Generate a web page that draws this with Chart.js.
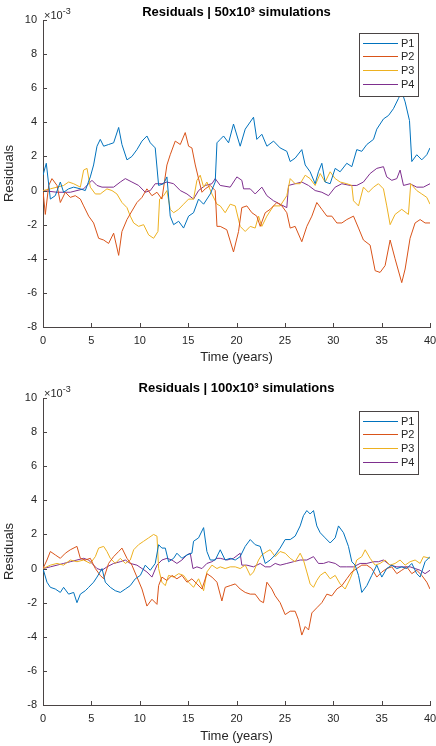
<!DOCTYPE html>
<html>
<head>
<meta charset="utf-8">
<script src="https://cdn.jsdelivr.net/npm/chart.js@4.4.0/dist/chart.umd.min.js"></script>
<style>
  body { margin: 0; background: #fff; }
  canvas { display: block; }
</style>
</head>
<body>
<canvas id="chartTop" width="436" height="373"></canvas>
<canvas id="chartBottom" width="436" height="373"></canvas>
<script>
// series names, colours, ticks
const seriesNames = ["P1", "P2", "P3", "P4"];
const seriesColors = ["#0072BD", "#D95319", "#EDB120", "#7E2F8E"];
const xTicks = [0, 5, 10, 15, 20, 25, 30, 35, 40];
const yTicks = [-8, -6, -4, -2, 0, 2, 4, 6, 8, 10];

// === 50x10^3 simulations === [year, residual x1e-3]
const top_P1 = [[0,0.9],[0.34,1.6],[0.76,-0.5],[1.27,-0.3],[1.79,0.5],[2.13,-0.1],[2.65,0.1],[3.17,0.2],[3.86,0.1],[4.37,0.0],[4.89,0.8],[5.23,1.5],[5.58,2.6],[5.92,3.0],[6.27,2.6],[6.78,2.7],[7.3,2.8],[7.82,3.7],[8.16,2.7],[8.68,1.8],[9.19,2.0],[9.71,2.4],[10.23,2.9],[10.74,3.2],[11.09,2.8],[11.6,2.5],[11.95,0.3],[12.47,0.4],[12.81,0.8],[13.15,-1.5],[13.5,-2.0],[14.02,-1.8],[14.53,-2.2],[15.05,-1.5],[15.56,-1.3],[16.08,-0.5],[16.6,-0.8],[17.29,-0.2],[17.8,0.5],[17.98,2.8],[18.32,3.0],[18.66,3.2],[19.18,2.8],[19.69,3.9],[20.38,2.6],[20.9,3.6],[21.76,4.3],[22.1,3.0],[22.62,3.3],[23.14,2.6],[23.83,2.9],[24.51,2.5],[25.2,2.3],[25.55,1.7],[26.06,1.9],[26.75,2.4],[27.1,1.5],[27.61,1.1],[28.13,0.4],[28.47,1.1],[28.82,1.6],[29.16,0.5],[29.68,0.4],[30.2,1.3],[30.71,1.1],[31.4,1.6],[31.92,1.4],[32.43,2.4],[32.95,2.3],[33.47,2.7],[34.16,3.0],[34.5,3.6],[35.19,4.2],[35.71,4.4],[36.22,4.8],[36.74,5.4],[37.08,5.8],[37.43,5.2],[37.88,4.1],[38.12,1.7],[38.63,2.1],[39.15,1.8],[39.67,2.1],[40,2.5]];
const top_P2 = [[0,0],[0.24,-1.4],[0.59,0.3],[0.93,0.7],[1.45,0.3],[1.79,-0.7],[2.31,-0.1],[2.82,-0.4],[3.34,-0.3],[3.86,-0.5],[4.2,-0.9],[4.72,-1.5],[5.23,-1.9],[5.75,-2.8],[6.27,-2.9],[6.78,-3.1],[7.3,-2.5],[7.82,-3.8],[8.16,-2.4],[8.68,-1.7],[9.19,-1.2],[9.71,-0.7],[10.23,-0.4],[10.74,0.1],[11.26,-0.3],[11.78,-0.1],[12.29,-0.5],[12.81,1.5],[13.15,2.1],[13.67,2.9],[14.19,2.7],[14.7,3.4],[15.05,2.6],[15.39,2.5],[15.74,1.5],[16.08,0.7],[16.43,-0.1],[16.77,0.1],[17.29,0.3],[17.8,0],[17.98,-2.1],[18.32,-2.1],[19.0,-2.3],[19.69,-3.6],[20.21,-2.4],[20.55,-1.0],[21.07,-0.9],[21.59,-1.3],[22.1,-1.5],[22.45,-2.1],[22.97,-1.3],[23.48,-1.1],[24.17,-0.7],[24.69,-0.9],[25.2,-1.3],[25.55,-2.2],[26.06,-2.1],[26.75,-3.0],[27.27,-2.1],[27.79,-1.5],[28.3,-0.7],[28.82,-1.1],[29.34,-1.5],[29.85,-1.5],[30.37,-1.9],[30.89,-1.9],[31.4,-1.7],[32.09,-1.5],[32.61,-2.2],[33.12,-2.9],[33.81,-3.2],[34.33,-4.7],[34.84,-4.8],[35.36,-4.4],[35.88,-2.9],[36.39,-4.0],[37.08,-5.4],[37.43,-4.6],[37.94,-2.8],[38.46,-1.9],[38.98,-1.7],[39.49,-1.9],[40,-1.9]];
const top_P3 = [[0,0],[0.76,0.1],[1.45,0.2],[2.13,0.3],[2.65,0.5],[3.17,0.4],[3.86,0.2],[4.2,1.2],[4.55,1.3],[4.89,0.2],[5.41,-0.2],[5.92,-0.2],[6.61,0.1],[7.13,0.0],[7.64,-0.2],[8.16,-0.7],[8.68,-1.0],[9.02,-1.5],[9.37,-1.9],[9.88,-2.1],[10.4,-2.0],[10.92,-2.6],[11.43,-2.8],[11.88,-2.4],[12.05,-0.5],[12.47,-0.3],[12.81,0.0],[13.15,-1.1],[13.5,-1.3],[14.02,-1.1],[14.53,-0.8],[15.05,-0.5],[15.56,-0.5],[15.91,0.6],[16.25,0.9],[16.6,0.2],[16.94,0.5],[17.46,-0.2],[17.98,-0.8],[18.32,-0.9],[18.83,-1.3],[19.35,-0.8],[19.87,-0.9],[20.38,-2.1],[20.9,-2.4],[21.42,-2.1],[21.93,-2.2],[22.28,-1.5],[22.62,-2.1],[23.14,-1.5],[23.83,-0.9],[24.51,-0.9],[25.2,-0.3],[25.55,0.7],[26.06,0.4],[26.58,0.4],[27.1,0.9],[27.61,0.7],[28.13,0.3],[28.65,1.0],[29.16,0.5],[29.68,1.1],[30.2,0.7],[30.71,0.5],[31.4,0.4],[31.92,0.3],[32.09,-0.6],[32.61,-0.9],[33.12,0.2],[33.64,-0.1],[34.16,0.2],[34.67,0.4],[35.19,0.1],[35.53,-0.9],[35.88,-2.0],[36.39,-1.4],[37.08,-1.1],[37.77,-1.4],[38.01,0.4],[38.63,0.0],[39.15,-0.2],[39.67,-0.4],[40,-0.8]];
const top_P4 = [[0,0],[1.45,-0.1],[2.82,-0.1],[4.2,0.1],[5.06,0.6],[5.58,0.3],[6.1,0.2],[7.3,0.2],[7.99,0.5],[8.51,0.7],[9.19,0.5],[9.88,0.3],[10.57,-0.1],[11.09,0.0],[11.6,0.4],[12.29,0.4],[12.81,0.5],[13.5,0.4],[14.19,0.0],[14.88,-0.2],[15.56,-0.5],[16.08,0.0],[16.77,0.3],[17.46,0.4],[17.8,0.7],[18.32,0.3],[19.35,0.2],[20.04,0.8],[20.55,0.6],[20.73,0.1],[21.42,0.1],[21.93,-0.2],[22.62,0.2],[23.14,-0.3],[23.83,-0.6],[24.51,-0.8],[25.2,-1.0],[25.38,0.3],[26.06,0.4],[26.75,0.5],[27.44,0.3],[28.13,0.0],[28.82,-0.1],[29.51,-0.3],[30.2,0.2],[30.89,0.4],[31.75,0.3],[32.43,0.3],[33.12,0.5],[33.81,1.0],[34.5,1.3],[35.19,1.4],[35.53,0.8],[36.05,0.6],[36.57,0.7],[36.91,1.2],[37.26,0.3],[37.94,0.4],[38.63,0.2],[39.32,0.2],[40,0.4]];

// === 100x10^3 simulations ===
const bot_P1 = [[0,0],[0.41,-0.8],[0.76,-1.1],[1.27,-1.2],[1.79,-1.4],[2.13,-1.1],[2.65,-1.5],[3.17,-1.4],[3.51,-2.0],[3.86,-1.5],[4.37,-1.3],[4.72,-1.1],[5.23,-0.8],[5.58,-0.5],[6.1,0.0],[6.44,-0.8],[6.96,-1.1],[7.47,-1.3],[7.99,-1.4],[8.51,-1.2],[9.02,-1.0],[9.54,-0.6],[10.06,-0.4],[10.57,0.2],[11.09,-0.1],[11.6,0.3],[11.95,1.4],[12.29,1.2],[12.64,1.2],[12.98,0.4],[13.5,0.6],[13.84,0.9],[14.36,0.6],[14.88,0.8],[15.39,0.9],[15.56,1.6],[16.08,1.8],[16.6,2.4],[16.94,1.0],[17.29,0.5],[17.8,0.5],[18.32,1.1],[18.83,0.5],[19.35,0.6],[19.87,0.5],[20.38,0.7],[20.9,1.3],[21.42,1.7],[21.93,1.4],[22.45,1.3],[22.97,0.3],[23.48,0.5],[24.0,0.8],[24.51,1.2],[25.03,1.7],[25.55,1.7],[26.06,1.9],[26.58,2.5],[26.92,3.1],[27.27,3.4],[27.61,3.2],[27.96,3.4],[28.3,2.5],[28.65,2.1],[29.16,1.8],[29.68,1.5],[30.2,1.8],[30.54,2.5],[31.06,2.1],[31.57,1.3],[31.92,0.4],[32.26,0.2],[32.61,-0.4],[32.95,-1.4],[33.47,-1.0],[33.98,-0.4],[34.5,0.2],[35.02,-0.5],[35.53,0.0],[36.05,0.2],[36.57,0.0],[37.08,0.1],[37.6,0.0],[38.12,0.3],[38.63,-0.3],[38.98,-0.5],[39.49,0.4],[40,0.7]];
const bot_P2 = [[0,0],[0.41,0.5],[0.76,1.0],[1.27,0.8],[1.79,0.6],[2.31,0.9],[2.82,1.1],[3.51,1.3],[3.86,0.6],[4.37,0.5],[4.89,0.6],[5.41,0.0],[5.92,-0.4],[6.27,-0.6],[6.78,0.3],[7.3,0.7],[7.82,1.0],[8.16,1.2],[8.68,0.6],[9.19,0.2],[9.71,-0.5],[10.23,-1.2],[10.74,-2.2],[11.26,-1.8],[11.78,-2.1],[11.95,-1.0],[12.29,-0.5],[12.81,-0.7],[13.33,-0.4],[13.84,-0.6],[14.36,-0.4],[14.88,-0.8],[15.39,-0.6],[15.91,-0.9],[16.43,-1.2],[16.94,-0.3],[17.46,-0.5],[17.98,-0.8],[18.49,-1.9],[18.83,-1.1],[19.35,-1.0],[19.87,-0.9],[20.38,-1.2],[20.9,-1.4],[21.42,-1.5],[21.93,-1.5],[22.45,-1.9],[22.79,-2.0],[23.14,-0.8],[23.65,-1.2],[24.0,-1.6],[24.51,-2.0],[25.03,-2.7],[25.55,-2.5],[26.06,-2.5],[26.4,-3.0],[26.75,-3.9],[27.1,-3.4],[27.45,-3.6],[27.79,-2.6],[28.3,-2.3],[28.82,-2.0],[29.34,-1.5],[29.85,-1.6],[30.37,-1.2],[30.89,-1.0],[31.4,-0.6],[31.92,-0.2],[32.43,0.0],[32.95,0.2],[33.47,0.2],[33.98,0.0],[34.5,-0.5],[35.02,-0.2],[35.53,0.0],[36.05,0.1],[36.57,-0.3],[37.08,-0.1],[37.6,0.1],[38.12,-0.3],[38.63,-0.1],[39.15,-0.4],[39.67,-0.8],[40,-1.2]];
const bot_P3 = [[0,0],[0.76,0.2],[1.45,0.3],[2.13,0.2],[2.82,0.5],[3.51,0.4],[4.2,0.5],[4.89,0.3],[5.41,0.7],[5.75,1.2],[6.27,1.3],[6.61,1.0],[6.96,0.6],[7.47,0.3],[7.99,0.6],[8.51,0.3],[9.02,0.5],[9.37,1.1],[9.88,1.4],[10.4,1.6],[10.92,1.8],[11.43,2.0],[11.78,1.9],[11.95,0.0],[12.29,-0.8],[12.64,-1.0],[12.98,-0.4],[13.5,-0.5],[14.02,-0.3],[14.53,-0.4],[15.05,-0.8],[15.56,-1.1],[16.08,-0.6],[16.6,-1.3],[16.94,-0.2],[17.46,0.2],[17.98,0.0],[18.32,0.1],[18.83,0.0],[19.35,0.1],[19.87,0.1],[20.38,0.0],[20.9,0.2],[21.42,-0.4],[21.76,-0.2],[22.28,0.5],[22.62,0.8],[23.14,1.0],[23.48,1.1],[24.0,0.7],[24.51,1.0],[25.03,0.9],[25.55,0.6],[26.06,0.4],[26.58,0.9],[26.92,0.5],[27.27,-0.2],[27.61,-0.9],[27.96,-1.1],[28.3,-0.7],[28.65,-0.4],[29.16,-0.2],[29.68,-0.6],[30.2,-0.4],[30.71,-0.9],[31.23,-1.2],[31.75,-0.6],[32.09,-0.1],[32.43,0.5],[32.95,0.7],[33.3,1.1],[33.81,0.6],[34.33,0.2],[34.84,0.3],[35.36,0.5],[35.88,0.2],[36.39,0.3],[36.91,0.5],[37.43,0.2],[37.94,0.4],[38.46,0.5],[38.98,0.3],[39.32,0.7],[40,0.6]];
const bot_P4 = [[0,0],[0.76,0.1],[1.45,0.2],[2.13,0.3],[2.82,0.4],[3.51,0.5],[4.2,0.6],[4.72,0.5],[5.06,0.3],[5.58,0.0],[6.1,-0.1],[6.61,0.1],[7.3,0.3],[7.99,0.4],[8.51,0.5],[9.02,0.3],[9.71,0.2],[10.23,0.0],[10.74,-0.2],[11.26,-0.5],[11.78,0.2],[12.29,0.5],[12.81,0.6],[13.33,0.5],[13.84,0.3],[14.36,0.5],[14.88,0.8],[15.22,0.9],[15.5,0.0],[15.91,0.1],[16.43,0.0],[16.94,0.3],[17.46,0.4],[17.98,0.6],[18.32,0.6],[19.01,0.5],[19.69,0.6],[20.38,0.9],[20.55,0.2],[21.07,0.2],[21.76,0.1],[22.45,0.3],[22.97,0.1],[23.48,0.1],[24.0,0.3],[24.51,0.2],[25.2,0.3],[25.89,0.4],[26.58,0.5],[27.27,0.5],[27.96,0.7],[28.47,0.3],[28.99,0.3],[29.51,0.4],[30.2,0.3],[30.71,0.1],[31.4,0.1],[32.09,0.1],[32.78,0.3],[33.47,0.3],[34.16,0.4],[34.67,0.4],[35.19,0.5],[35.88,0.2],[36.57,0.1],[37.26,0.1],[37.94,0.1],[38.46,0.0],[38.98,-0.1],[39.49,-0.3],[40,-0.1]];

const FONT = "'Liberation Sans', Arial, sans-serif";
const axisColor = "#4a4444";
const textColor = "#262626";

// matlab look: inward ticks, x10^-3 label, title, boxed legend
const matlabAxes = {
    id: "matlabAxes",
    afterDraw(chart) {
        const { ctx, chartArea: a, scales: { x, y } } = chart;
        ctx.save();
        ctx.strokeStyle = axisColor;
        ctx.lineWidth = 1;
        ctx.beginPath();
        xTicks.forEach(v => {
            const px = Math.round(x.getPixelForValue(v)) + 0.5;
            ctx.moveTo(px, a.bottom);
            ctx.lineTo(px, a.bottom - 4);
        });
        yTicks.forEach(v => {
            const py = Math.round(y.getPixelForValue(v)) + 0.5;
            ctx.moveTo(a.left, py);
            ctx.lineTo(a.left + 4, py);
        });
        ctx.stroke();

        // exponent
        ctx.fillStyle = textColor;
        ctx.textAlign = "left";
        ctx.textBaseline = "alphabetic";
        ctx.font = "11px " + FONT;
        ctx.fillText("×10", a.left + 1, a.top - 1);
        const w = ctx.measureText("×10").width;
        ctx.font = "9px " + FONT;
        ctx.fillText("-3", a.left + 1 + w, a.top - 6);

        // title
        const t = chart.options.plugins.matlabAxes;
        ctx.fillStyle = "#000";
        ctx.font = "bold 13px " + FONT;
        ctx.textAlign = "center";
        ctx.textBaseline = "middle";
        ctx.fillText(t.title, (a.left + a.right) / 2, a.top - t.titleGap);

        // legend
        const bx = 359, by = a.top + 13, bw = 59, bh = 63;
        ctx.fillStyle = "#fff";
        ctx.fillRect(bx, by, bw, bh);
        ctx.strokeStyle = axisColor;
        ctx.strokeRect(bx + 0.5, by + 0.5, bw, bh);
        ctx.font = "11px " + FONT;
        ctx.textAlign = "left";
        chart.data.datasets.forEach((ds, i) => {
            const ly = Math.round(by + 9.5 + i * 13.8) + 0.5;
            ctx.strokeStyle = ds.borderColor;
            ctx.beginPath();
            ctx.moveTo(bx + 4, ly);
            ctx.lineTo(bx + 39, ly);
            ctx.stroke();
            ctx.fillStyle = textColor;
            ctx.fillText(ds.label, bx + 42, ly + 0.5);
        });
        ctx.restore();
    }
};

function makeChart(id, series, title, lay) {
    return new Chart(document.getElementById(id), {
        type: "line",
        data: {
            datasets: series.map((s, i) => ({
                label: seriesNames[i],
                data: s.map(p => ({ x: p[0], y: p[1] })),
                borderColor: seriesColors[i],
                borderWidth: 1,
                pointRadius: 0,
                tension: 0,
            })),
        },
        options: {
            responsive: false,
            animation: false,
            devicePixelRatio: 1,
            layout: { padding: { top: lay.top, right: 6, bottom: 0, left: 0 } },
            plugins: {
                legend: { display: false },
                tooltip: { enabled: false },
                matlabAxes: { title: title, titleGap: lay.titleGap },
            },
            scales: {
                x: {
                    type: "linear",
                    min: 0,
                    max: 40,
                    afterBuildTicks: s => { s.ticks = xTicks.map(v => ({ value: v })); },
                    afterFit: s => { s.height = lay.xHeight; s.paddingLeft = 0; s.paddingRight = 0; },
                    grid: { display: true, drawOnChartArea: false, drawTicks: false },
                    border: { display: true, color: axisColor },
                    ticks: { padding: 7, color: textColor, maxRotation: 0, autoSkip: false, font: { family: FONT, size: 11 } },
                    title: { display: true, text: "Time (years)", color: textColor, font: { family: FONT, size: 13 }, padding: { top: 0, bottom: lay.xTitleBottom } },
                },
                y: {
                    min: -8,
                    max: 10,
                    afterBuildTicks: s => { s.ticks = yTicks.map(v => ({ value: v })); },
                    afterFit: s => { s.width = 43; },
                    grid: { display: true, drawOnChartArea: false, drawTicks: false },
                    border: { display: true, color: axisColor },
                    ticks: { padding: 6, color: textColor, font: { family: FONT, size: 11 } },
                    title: { display: true, text: "Residuals", color: textColor, font: { family: FONT, size: 13 }, padding: { top: 2, bottom: 0 } },
                },
            },
        },
        plugins: [matlabAxes],
    });
}

makeChart("chartTop", [top_P1, top_P2, top_P3, top_P4], "Residuals | 50x10³ simulations",
    { top: 20, titleGap: 8, xHeight: 46, xTitleBottom: 7.5 });
makeChart("chartBottom", [bot_P1, bot_P2, bot_P3, bot_P4], "Residuals | 100x10³ simulations",
    { top: 25, titleGap: 10, xHeight: 41, xTitleBottom: 1.5 });
</script>
</body>
</html>
